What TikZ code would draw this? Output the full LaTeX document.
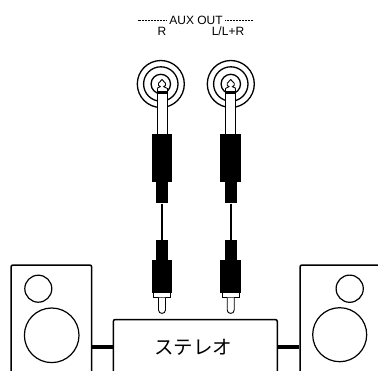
\documentclass[tikz,border=0pt]{standalone}
\usepackage{fontspec}
\setmainfont{Liberation Sans}
\newfontfamily\jpfont{Noto Sans CJK JP}
\begin{document}
\begin{tikzpicture}[x=1pt,y=-1pt,
  lbl/.style={inner sep=0pt,anchor=base,font=\fontsize{12}{13}\selectfont},
  dotline/.style={line width=0.7pt,dash pattern=on 0.7pt off 0.8pt},
  ring/.style={circle,draw=black,line width=1.3pt,inner sep=0pt},
  thinline/.style={draw=black,line width=0.9pt},
  plugbody/.style={rectangle,fill=black,inner sep=0pt},
  wire/.style={draw=black},
  cabinet/.style={rectangle,draw=black,line width=1.5pt,rounded corners=2pt,fill=white,inner sep=0pt},
  cone/.style={circle,draw=black,line width=1.2pt,inner sep=0pt},
  link/.style={draw=black,line width=4.5pt}]
\useasboundingbox (0,0) rectangle (378,370);
\clip (0,0) rectangle (378,370);

% output labels
\node[lbl] (aux) at (196,24) {AUX OUT};
\node[lbl] (rlab) at (162,35.5) {R};
\node[lbl] (llab) at (228,35.5) {L/L+R};
\draw[dotline] ([xshift=-2.5pt]aux.west) -- ++(-29,0);
\draw[dotline] ([xshift=2.5pt]aux.east) -- ++(28,0);

% speakers and stereo unit
\node[cabinet,minimum width=80.7pt,minimum height=163.4pt] (spkL) at (51.35,346.7) {};
\node[cabinet,minimum width=81pt,minimum height=163.4pt] (spkR) at (340.5,346.7) {};
\node[cabinet,minimum width=164pt,minimum height=54.5pt] (stereo) at (195.3,346.75) {};
\node[inner sep=0pt,font=\jpfont\fontsize{19.5}{20}\selectfont] (stlab) at (193,347.5) {ステレオ};

\node[cone,minimum size=27pt] (twL) at (38.3,288.7) {};
\node[cone,minimum size=54.6pt] (wfL) at (51.7,335.3) {};
\node[cone,minimum size=27.2pt] (twR) at (349.7,288.7) {};
\node[cone,minimum size=54pt] (wfR) at (339.7,334.7) {};

\draw[link] (spkL.east |- stereo.west) -- (stereo.west);
\draw[link] (stereo.east) -- (spkR.west |- stereo.east);

% jacks with their cables
\foreach \cx/\jx/\w/\n in {162/160.8/2.4/L,230.7/230.8/1.9/R}{
  \node[ring,minimum size=47pt] (outer\n) at (\jx,84) {};
  \node[ring,minimum size=34.4pt] (mid\n) at (\jx,84) {};
  \node[ring,minimum size=19.4pt] (inner\n) at (\jx,84) {};
  % phone plug sleeve and tip
  \fill[white] (\cx-5,88.3) rectangle (\cx+5,135);
  \draw[thinline] (\cx-5,88.3) -- (\cx-5,135) (\cx+5,88.3) -- (\cx+5,135);
  \draw[thinline,fill=white] (\cx-5,88.3) -- (\cx-1.7,86.7) -- (\cx-3.5,85.3) -- (\cx-3.5,83.3)
     -- (\cx,79.5) -- (\cx+3.5,83.3) -- (\cx+3.5,85.3) -- (\cx+1.7,86.7) -- (\cx+5,88.3);
  \fill (\cx-5,91.3) rectangle (\cx+5,94.3);
  % moulded bodies
  \node[plugbody,minimum width=20.6pt,minimum height=47.7pt] (bodyA\n) at (\cx,157.85) {};
  \node[plugbody,minimum width=11.6pt,minimum height=21.8pt] (neckA\n) at (\cx,192.5) {};
  \node[plugbody,minimum width=11.6pt,minimum height=20.2pt] (neckB\n) at (\cx,250) {};
  \node[plugbody,minimum width=20.6pt,minimum height=32.6pt] (bodyB\n) at (\cx,276.3) {};
  \draw[wire,line width=\w pt] (neckA\n.south) -- (neckB\n.north);
  % RCA shell and pin
  \draw[thinline,fill=white] (\cx-8.3,292.5) rectangle (\cx+8.3,297.5);
  \draw[thinline,fill=white] (\cx-3.5,297.5) -- (\cx-3.5,310)
     .. controls (\cx-3.5,314.5) and (\cx+3.5,314.5) .. (\cx+3.5,310) -- (\cx+3.5,297.5);
}
\end{tikzpicture}
\end{document}
